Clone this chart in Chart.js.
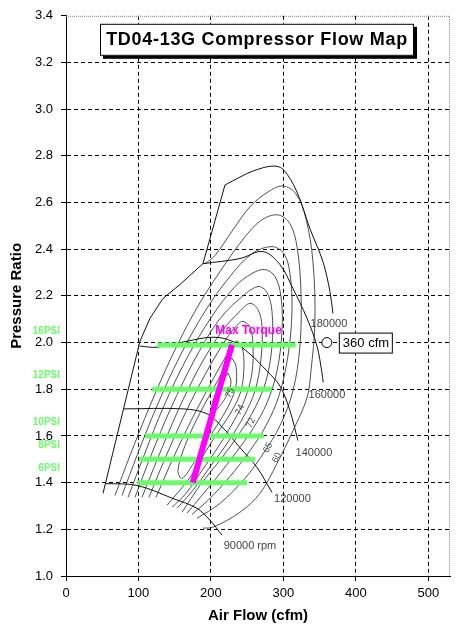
<!DOCTYPE html>
<html>
<head>
<meta charset="utf-8">
<script src="https://cdn.jsdelivr.net/npm/chart.js@4.4.0/dist/chart.umd.min.js"></script>
<style>
  html, body { margin: 0; padding: 0; background: #fff; }
  #wrap { width: 470px; height: 633px; }
</style>
</head>
<body>
<div id="wrap"><canvas id="map" width="470" height="633"></canvas></div>
<script>
// axis ticks
var flow_ticks = [0, 100, 200, 300, 400, 500];
var ratio_ticks = [1.0, 1.2, 1.4, 1.6, 1.8, 2.0, 2.2, 2.4, 2.6, 2.8, 3.0, 3.2, 3.4];

// boost lines (green)
var boost_labels = ['16PSI', '12PSI', '10PSI', '8PSI', '6PSI'];
var boost_ratio = [1.99, 1.8, 1.6, 1.5, 1.4];
var boost_flow_from = [126, 119, 109, 101, 99];
var boost_flow_to = [317, 284, 273, 261, 250];

// max torque line (magenta)
var torque_flow = [175, 229];
var torque_ratio = [1.40, 1.99];

// 360 cfm marker
var max_flow = 360;
var max_flow_ratio = 2.0;

// speed lines [cfm, ratio]
var surge_line = [[51.1,1.354],[102.1,2.006],[115.9,2.104],[133.9,2.189],[157.3,2.249],[189.0,2.338],[219.4,2.675]];
var rpm_180k = [[219.4,2.675],[240.1,2.709],[258.0,2.735],[284.3,2.756],[299.4,2.743],[318.8,2.645],[336.7,2.488],[354.6,2.347],[364.3,2.219],[368.4,2.125]];
var rpm_160k = [[189.0,2.338],[240.1,2.360],[271.8,2.390],[295.3,2.334],[313.2,2.232],[332.6,2.104],[346.4,1.985],[353.3,1.870],[355.0,1.830]];
var rpm_140k = [[102.1,1.985],[125.6,1.980],[167.0,2.006],[202.8,2.023],[229.1,2.006],[253.9,1.951],[277.4,1.878],[295.3,1.814],[309.1,1.708],[320.1,1.580]];
var rpm_120k = [[80.0,1.716],[161.4,1.716],[194.6,1.695],[216.6,1.635],[240.1,1.550],[263.6,1.465],[284.3,1.358]];
var rpm_90k = [[53.8,1.396],[98.0,1.388],[147.6,1.332],[180.8,1.290],[198.7,1.239],[215.3,1.175]];

// efficiency islands, outer to inner
var eff_1 = [[191.8,2.338],[205.6,2.373],[230.4,2.483],[253.9,2.582],[278.7,2.645],[299.4,2.671],[317.4,2.637],[331.2,2.531],[340.8,2.347],[343.6,2.091],[338.1,1.878],[332.6,1.763],[313.2,1.622],[291.2,1.482],[267.7,1.354],[240.1,1.273],[202.8,1.209],[189.0,1.205]];
var eff_2 = [[67.6,1.345],[88.3,1.516],[115.9,1.729],[146.3,1.942],[178.0,2.134],[212.5,2.304],[247.0,2.453],[270.5,2.526],[292.5,2.547],[309.1,2.509],[318.8,2.411],[324.3,2.219],[322.9,1.985],[313.2,1.793],[295.3,1.644],[273.2,1.529],[247.0,1.418],[212.5,1.311],[180.8,1.247]];
var eff_3 = [[77.3,1.345],[98.0,1.516],[125.6,1.729],[157.3,1.942],[191.8,2.134],[226.3,2.283],[256.7,2.381],[284.3,2.411],[300.8,2.381],[309.1,2.296],[311.9,2.134],[306.3,1.942],[293.9,1.772],[276.0,1.644],[253.9,1.537],[226.3,1.426],[195.9,1.324],[173.9,1.264]];
var eff_4 = [[85.6,1.337],[107.6,1.516],[135.2,1.729],[167.0,1.934],[201.5,2.113],[233.2,2.240],[256.7,2.296],[274.6,2.313],[288.4,2.283],[296.7,2.198],[298.1,2.049],[291.2,1.878],[277.4,1.742],[258.0,1.631],[234.6,1.529],[207.0,1.418],[167.0,1.269]];
var eff_5 = [[95.2,1.337],[117.3,1.516],[144.9,1.720],[176.6,1.921],[209.7,2.091],[240.1,2.189],[264.9,2.240],[277.4,2.215],[284.3,2.134],[284.3,1.985],[276.0,1.835],[260.8,1.720],[240.1,1.614],[215.3,1.507],[184.9,1.388],[160.1,1.273]];
var eff_6 = [[104.9,1.337],[127.0,1.507],[154.5,1.708],[184.9,1.899],[215.3,2.049],[240.1,2.134],[253.9,2.168],[264.9,2.142],[270.5,2.070],[269.1,1.929],[260.8,1.793],[245.6,1.686],[224.9,1.580],[200.1,1.473],[175.2,1.367],[153.2,1.290]];
var eff_7 = [[114.5,1.337],[136.6,1.503],[164.2,1.695],[193.2,1.870],[220.8,2.014],[236.0,2.074],[244.2,2.091],[253.9,2.066],[258.0,1.993],[256.7,1.870],[247.0,1.759],[231.8,1.665],[211.1,1.558],[187.7,1.452],[165.6,1.354],[146.3,1.294]];
var eff_8 = [[124.2,1.337],[146.3,1.494],[173.9,1.673],[201.5,1.835],[223.5,1.955],[234.6,2.006],[242.9,1.980],[245.6,1.899],[241.5,1.793],[229.1,1.708],[211.1,1.622],[191.8,1.529],[171.1,1.422],[139.4,1.303]];
var eff_9 = [[229.1,1.934],[234.6,1.899],[234.6,1.814],[226.3,1.742],[212.5,1.665],[194.6,1.580],[176.6,1.486],[160.1,1.418],[154.5,1.452],[164.2,1.558],[180.8,1.673],[201.5,1.793],[219.4,1.891],[229.1,1.934]];
var eff_10 = [[223.5,1.870],[227.7,1.835],[223.5,1.784],[212.5,1.729],[201.5,1.699],[202.8,1.750],[212.5,1.814],[223.5,1.870]];

// labels on the map
var speed_label_text = ['180000', '160000', '140000', '120000', '90000 rpm'];
var speed_label_flow = [362.9, 360.2, 342.2, 312.5, 253.9];
var speed_label_ratio = [2.078, 1.776, 1.529, 1.330, 1.128];
var eff_label_text = ['75', '74', '72', '65', '60'];
var eff_label_flow = [226.3, 240.1, 255.3, 278.7, 291.2];
var eff_label_ratio = [1.784, 1.712, 1.656, 1.550, 1.507];
var torque_label = 'Max Torque';
var torque_label_flow = 252;
var torque_label_ratio = 2.053;

var FONT = "'Liberation Sans', Arial, sans-serif";

function to_pts(arr) {
  return arr.map(function(p) { return {x: p[0], y: p[1]}; });
}

function line_set(arr, color, width, tension, order) {
  return {
    data: to_pts(arr),
    showLine: true,
    borderColor: color,
    borderWidth: width,
    pointRadius: 0,
    tension: tension,
    order: order
  };
}

var datasets = [];
datasets.push(line_set([[torque_flow[0], torque_ratio[0]], [torque_flow[1], torque_ratio[1]]], '#ff00ff', 6, 0, 0));
for (var i = 0; i < boost_ratio.length; i++) {
  datasets.push(line_set([[boost_flow_from[i], boost_ratio[i]], [boost_flow_to[i], boost_ratio[i]]], '#66ff66', 5, 0, 1));
}
datasets.push({
  data: [{x: max_flow, y: max_flow_ratio}],
  showLine: false,
  pointRadius: 5,
  pointBackgroundColor: '#fff',
  pointBorderColor: '#000',
  pointBorderWidth: 1,
  order: 2
});
datasets.push(line_set(surge_line, '#111', 1, 0, 3));
[rpm_180k, rpm_160k, rpm_140k, rpm_120k, rpm_90k].forEach(function(s) {
  datasets.push(line_set(s, '#111', 1, 0.35, 3));
});
[eff_1, eff_2, eff_3, eff_4, eff_5, eff_6, eff_7, eff_8, eff_9, eff_10].forEach(function(s) {
  datasets.push(line_set(s, '#505050', 1, 0.35, 4));
});

var notes_plugin = {
  id: 'notes',
  afterDraw: function(chart) {
    var c = chart.ctx, xs = chart.scales.x, ys = chart.scales.y, a = chart.chartArea;
    c.save();

    // dotted frame on top and right
    c.strokeStyle = '#808080';
    c.lineWidth = 1;
    c.setLineDash([1, 1]);
    c.beginPath();
    c.moveTo(a.left, a.top + 0.5);
    c.lineTo(a.right - 0.5, a.top + 0.5);
    c.lineTo(a.right - 0.5, a.bottom);
    c.stroke();
    c.setLineDash([]);

    // title box with shadow
    var cx = (a.left + a.right) / 2 - 1;
    var bw = 314, bh = 32, bx = cx - bw / 2, by = a.top + 8;
    c.fillStyle = '#000';
    c.fillRect(bx + 3, by + 3, bw, bh);
    c.fillStyle = '#fff';
    c.fillRect(bx, by, bw, bh);
    c.strokeStyle = '#000';
    c.lineWidth = 1;
    c.strokeRect(bx + 0.5, by + 0.5, bw - 1, bh - 1);
    c.fillStyle = '#000';
    c.font = 'bold 18px ' + FONT;
    c.textAlign = 'center';
    c.textBaseline = 'middle';
    try { c.letterSpacing = '0.7px'; } catch (e) {}
    c.fillText('TD04-13G Compressor Flow Map', cx, by + bh / 2);
    try { c.letterSpacing = '0px'; } catch (e) {}

    // boost labels left of the axis
    c.font = 'bold 10px ' + FONT;
    c.textAlign = 'right';
    c.fillStyle = '#66ff66';
    for (var i = 0; i < boost_labels.length; i++) {
      c.fillText(boost_labels[i], a.left - 6, ys.getPixelForValue(boost_ratio[i]) - 14);
    }

    // speed line labels
    c.font = '11px ' + FONT;
    c.textAlign = 'center';
    c.fillStyle = '#444';
    for (var j = 0; j < speed_label_text.length; j++) {
      c.fillText(speed_label_text[j], xs.getPixelForValue(speed_label_flow[j]), ys.getPixelForValue(speed_label_ratio[j]));
    }

    // efficiency labels
    c.font = '9px ' + FONT;
    for (var k = 0; k < eff_label_text.length; k++) {
      c.save();
      c.translate(xs.getPixelForValue(eff_label_flow[k]), ys.getPixelForValue(eff_label_ratio[k]));
      c.rotate(-65 * Math.PI / 180);
      c.fillText(eff_label_text[k], 0, 0);
      c.restore();
    }

    // max torque
    c.font = 'bold 12px ' + FONT;
    c.fillStyle = '#ff00ff';
    c.fillText(torque_label, xs.getPixelForValue(torque_label_flow), ys.getPixelForValue(torque_label_ratio));

    // 360 cfm box
    var px = xs.getPixelForValue(max_flow), py = ys.getPixelForValue(max_flow_ratio);
    c.fillStyle = '#fff';
    c.fillRect(px + 12, py - 10, 54, 21);
    c.strokeStyle = '#000';
    c.strokeRect(px + 12.5, py - 9.5, 53, 20);
    c.fillStyle = '#000';
    c.font = '13px ' + FONT;
    c.textAlign = 'left';
    c.fillText(max_flow + ' cfm', px + 16, py + 1);

    c.restore();
  }
};

var ctx = document.getElementById('map').getContext('2d');
window.myChart = new Chart(ctx, {
  type: 'scatter',
  data: { datasets: datasets },
  options: {
    responsive: false,
    animation: false,
    layout: { padding: { left: 0, right: 20, top: 13, bottom: 0 } },
    plugins: {
      legend: { display: false },
      tooltip: { enabled: false }
    },
    scales: {
      x: {
        type: 'linear',
        min: 0,
        max: 530,
        afterFit: function(s) { s.height = 57; },
        afterBuildTicks: function(s) { s.ticks = flow_ticks.map(function(v) { return {value: v}; }); },
        ticks: { padding: 5, color: '#000', font: { family: FONT, size: 13 }, maxRotation: 0 },
        grid: { color: '#000', lineWidth: 1, tickLength: 5, tickColor: '#000' },
        border: { color: '#000', width: 1, dash: [4, 3] },
        title: { display: true, text: 'Air Flow (cfm)', color: '#000', font: { family: FONT, size: 15, weight: 'bold' }, padding: { top: 0, bottom: 8 } }
      },
      y: {
        type: 'linear',
        min: 1.0,
        max: 3.4,
        afterFit: function(s) { s.width = 66; },
        afterBuildTicks: function(s) { s.ticks = ratio_ticks.map(function(v) { return {value: v}; }); },
        ticks: { padding: 8, color: '#000', font: { family: FONT, size: 13 }, callback: function(v) { return Number(v).toFixed(1); } },
        grid: {
          color: function(c) { return c.index === ratio_ticks.length - 1 ? 'rgba(0,0,0,0)' : '#000'; },
          lineWidth: 1, tickLength: 5, tickColor: '#000'
        },
        border: { color: '#000', width: 1, dash: [4, 3] },
        title: { display: true, text: 'Pressure Ratio', color: '#000', font: { family: FONT, size: 15, weight: 'bold' }, padding: { top: 8, bottom: 0 } }
      }
    }
  },
  plugins: [notes_plugin]
});
</script>
</body>
</html>
